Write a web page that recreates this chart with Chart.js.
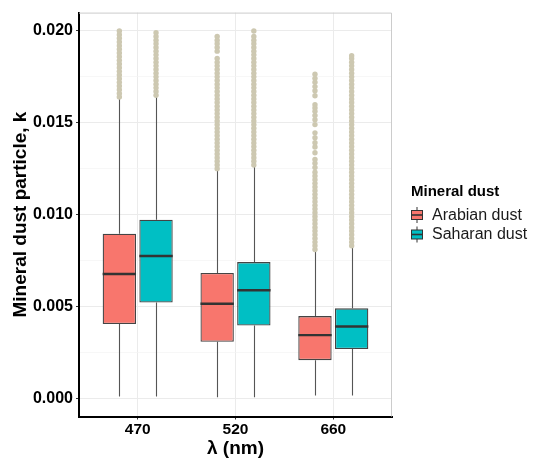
<!DOCTYPE html>
<html>
<head>
<meta charset="utf-8">
<script src="https://cdn.jsdelivr.net/npm/chart.js@4.4.1/dist/chart.umd.min.js"></script>
<style>
  html, body { margin: 0; padding: 0; background: #fff; }
  #wrap { width: 533px; height: 458px; }
</style>
</head>
<body>
<div id="wrap"><canvas id="chart" width="533" height="458"></canvas></div>
<script>
const categories = ['470', '520', '660'];
const groups     = ['Arabian dust', 'Saharan dust'];

// box stats
const arabLo  = [0.00009, 0.00005, 0.00015];
const arabQ1  = [0.00404, 0.00307, 0.00207];
const arabMed = [0.00676, 0.00514, 0.00343];
const arabQ3  = [0.00896, 0.00682, 0.00447];
const arabHi  = [0.01636, 0.01243, 0.00806];

const sahLo  = [0.00009, 0.00005, 0.00015];
const sahQ1  = [0.00521, 0.00395, 0.00267];
const sahMed = [0.00774, 0.00588, 0.00390];
const sahQ3  = [0.00972, 0.00741, 0.00489];
const sahHi  = [0.01645, 0.01262, 0.00824];

// outliers (columns of points above the whiskers)
const arabOut470 = [0.0164,0.0166,0.0168,0.0170,0.0172,0.0174,0.0176,0.0178,0.0180,0.0182,0.0184,0.0186,0.0188,0.0190,0.0192,0.0194,0.0196,0.0198,0.0200];
const sahOut470  = [0.0165,0.0167,0.0169,0.0171,0.0173,0.0175,0.0177,0.0179,0.0181,0.0183,0.0185,0.0187,0.0189,0.0191,0.0193,0.0195,0.0197,0.0199];
const arabOut520 = [0.0125,0.0127,0.0129,0.0131,0.0133,0.0135,0.0137,0.0139,0.0141,0.0143,0.0145,0.0147,0.0149,0.0151,0.0153,0.0155,0.0157,0.0159,0.0161,0.0163,0.0165,0.0167,0.0169,0.0171,0.0173,0.0175,0.0177,0.0179,0.0181,0.0183,0.0185,0.0189,0.0191,0.0193,0.0195,0.0197];
const sahOut520  = [0.0127,0.0129,0.0131,0.0133,0.0135,0.0137,0.0139,0.0141,0.0143,0.0145,0.0147,0.0149,0.0151,0.0153,0.0155,0.0157,0.0159,0.0161,0.0163,0.0165,0.0167,0.0169,0.0171,0.0173,0.0175,0.0177,0.0179,0.0181,0.0183,0.0185,0.0187,0.0189,0.0191,0.0193,0.0195,0.0197,0.0200];
const arabOut660 = [0.0081,0.0083,0.0085,0.0087,0.0089,0.0091,0.0093,0.0095,0.0097,0.0099,0.0101,0.0103,0.0105,0.0107,0.0109,0.0111,0.0113,0.0115,0.0117,0.0119,0.0121,0.0123,0.01256,0.0128,0.0130,0.01337,0.01368,0.01391,0.01418,0.01445,0.0149,0.01517,0.0154,0.01562,0.0158,0.01598,0.01647,0.01674,0.01697,0.01721,0.01742,0.01764];
const sahOut660  = [0.0083,0.0085,0.0087,0.0089,0.0091,0.0093,0.0095,0.0097,0.0099,0.0101,0.0103,0.0105,0.0107,0.0109,0.0111,0.0113,0.0115,0.0117,0.0119,0.0121,0.0123,0.0125,0.0127,0.0129,0.0131,0.0133,0.0135,0.0137,0.0139,0.0141,0.0143,0.0145,0.0147,0.0149,0.0151,0.0153,0.0155,0.0157,0.0159,0.0161,0.0163,0.0165,0.0167,0.0169,0.0171,0.0173,0.0175,0.0177,0.0179,0.0181,0.0183,0.0185,0.01865];

const yMajor  = [0, 0.005, 0.010, 0.015, 0.020];
const yLabels = ['0.000', '0.005', '0.010', '0.015', '0.020'];
const yMinor  = [0.0025, 0.0075, 0.0125, 0.0175];

const COLORS  = ['#F8766D', '#00BFC4'];
const OUT_COL = '#CDC8B1';
const DODGE   = 0.1875;
const FONT    = '"Liberation Sans", Arial, sans-serif';

const xPos = categories.map((c, i) => i + 1);

function boxData(q1, q3) {
  return xPos.map((x, i) => ({ x, y: [q1[i], q3[i]] }));
}
function outData(lists, shift) {
  const pts = [];
  lists.forEach((vals, i) => vals.forEach(v => pts.push({ x: xPos[i] + shift, y: v })));
  return pts;
}
function isMajor(v) {
  return yMajor.some(m => Math.abs(m - v) < 1e-9);
}

const boxPlugin = {
  id: 'boxParts',
  beforeDatasetsDraw(chart) {
    const { ctx, chartArea: a, scales: { y } } = chart;
    // light panel border top / right
    ctx.save();
    ctx.strokeStyle = '#CCCCCC';
    ctx.lineWidth = 1;
    ctx.beginPath();
    ctx.moveTo(a.left, a.top + 0.5); ctx.lineTo(a.right - 0.5, a.top + 0.5);
    ctx.lineTo(a.right - 0.5, a.bottom);
    ctx.stroke();
    // whiskers
    chart.data.datasets.forEach((ds, di) => {
      if (ds.type !== 'bar') return;
      const meta = chart.getDatasetMeta(di);
      meta.data.forEach((el, i) => {
        const x = Math.round(el.x) + 0.5;
        ctx.strokeStyle = '#555555';
        ctx.lineWidth = 1.1;
        ctx.beginPath();
        ctx.moveTo(x, y.getPixelForValue(ds.q3[i])); ctx.lineTo(x, y.getPixelForValue(ds.hi[i]));
        ctx.moveTo(x, y.getPixelForValue(ds.q1[i])); ctx.lineTo(x, y.getPixelForValue(ds.lo[i]));
        ctx.stroke();
      });
    });
    ctx.restore();
  },
  afterDatasetsDraw(chart) {
    const { ctx, scales: { y } } = chart;
    ctx.save();
    chart.data.datasets.forEach((ds, di) => {
      if (ds.type !== 'bar') return;
      const meta = chart.getDatasetMeta(di);
      meta.data.forEach((el, i) => {
        const py = y.getPixelForValue(ds.med[i]);
        ctx.strokeStyle = '#333333';
        ctx.lineWidth = 2.4;
        ctx.beginPath();
        ctx.moveTo(el.x - el.width / 2, py); ctx.lineTo(el.x + el.width / 2, py);
        ctx.stroke();
      });
    });
    ctx.restore();
  },
  afterDraw(chart) {
    const { ctx } = chart;
    ctx.save();
    ctx.fillStyle = '#000';
    ctx.textBaseline = 'middle';
    ctx.textAlign = 'left';
    ctx.font = 'bold 15px ' + FONT;
    ctx.fillText('Mineral dust', 411, 192);
    ctx.font = '16px ' + FONT;
    groups.forEach((g, i) => {
      const cy = 215 + i * 19.5;
      const kx = 411.5, kw = 11;
      ctx.strokeStyle = '#333333';
      ctx.lineWidth = 1;
      ctx.beginPath();
      ctx.moveTo(kx + kw / 2, cy - 8); ctx.lineTo(kx + kw / 2, cy + 8);
      ctx.stroke();
      ctx.fillStyle = COLORS[i];
      ctx.fillRect(kx, cy - 4.5, kw, 9);
      ctx.strokeRect(kx, cy - 4.5, kw, 9);
      ctx.lineWidth = 1.6;
      ctx.beginPath();
      ctx.moveTo(kx, cy); ctx.lineTo(kx + kw, cy);
      ctx.stroke();
      ctx.fillStyle = '#1a1a1a';
      ctx.fillText(g, 432, cy + 0.5);
    });
    ctx.restore();
  }
};

const datasets = [
  { type: 'bar', label: groups[0], data: boxData(arabQ1, arabQ3),
    q1: arabQ1, q3: arabQ3, med: arabMed, lo: arabLo, hi: arabHi,
    backgroundColor: COLORS[0], borderColor: '#444444', borderWidth: 1.3, borderSkipped: false,
    categoryPercentage: 0.75, barPercentage: 0.91 },
  { type: 'bar', label: groups[1], data: boxData(sahQ1, sahQ3),
    q1: sahQ1, q3: sahQ3, med: sahMed, lo: sahLo, hi: sahHi,
    backgroundColor: COLORS[1], borderColor: '#444444', borderWidth: 1.3, borderSkipped: false,
    categoryPercentage: 0.75, barPercentage: 0.91 },
  { type: 'scatter', label: 'out-a', data: outData([arabOut470, arabOut520, arabOut660], -DODGE),
    backgroundColor: OUT_COL, borderWidth: 0, pointRadius: 2.7 },
  { type: 'scatter', label: 'out-s', data: outData([sahOut470, sahOut520, sahOut660], DODGE),
    backgroundColor: OUT_COL, borderWidth: 0, pointRadius: 2.7 }
];

new Chart(document.getElementById('chart'), {
  type: 'bar',
  data: { datasets },
  plugins: [boxPlugin],
  options: {
    responsive: false,
    animation: false,
    devicePixelRatio: 1,
    layout: { padding: { top: 10.5, right: 141, left: 0, bottom: 0 } },
    plugins: { legend: { display: false }, tooltip: { enabled: false } },
    scales: {
      x: {
        type: 'linear',
        offset: false,
        min: 0.4, max: 3.6,
        afterBuildTicks: s => { s.ticks = xPos.map(v => ({ value: v })); },
        afterFit: s => { s.height = 41.5; },
        ticks: {
          callback: v => categories[v - 1] || '',
          color: '#000', padding: 1,
          font: { family: FONT, size: 15.5, weight: 'bold' }
        },
        grid: { offset: false, color: '#EBEBEB', lineWidth: 1, tickLength: 3, tickColor: '#333333' },
        border: { display: true, color: '#000', width: 2 },
        title: {
          display: true, text: 'λ (nm)', color: '#000', padding: 0,
          font: { family: FONT, size: 19, weight: 'bold', lineHeight: 1 }
        }
      },
      y: {
        type: 'linear',
        min: -0.001, max: 0.021,
        afterBuildTicks: s => {
          s.ticks = yMajor.concat(yMinor).sort((a, b) => a - b).map(v => ({ value: v }));
        },
        afterFit: s => { s.width = 79; },
        ticks: {
          callback: v => { const k = yMajor.findIndex(m => Math.abs(m - v) < 1e-9); return k >= 0 ? yLabels[k] : ''; },
          color: '#000', padding: 3,
          font: { family: FONT, size: 16, weight: 'bold' }
        },
        grid: {
          color: c => (c.tick && isMajor(c.tick.value)) ? '#EBEBEB' : '#F3F3F3',
          lineWidth: c => (c.tick && isMajor(c.tick.value)) ? 1 : 0.7,
          tickLength: 3,
          tickColor: c => (c.tick && isMajor(c.tick.value)) ? '#333333' : 'rgba(0,0,0,0)'
        },
        border: { display: true, color: '#000', width: 2 },
        title: {
          display: true, text: 'Mineral dust particle, k', color: '#000',
          padding: { top: 11, bottom: 0 },
          font: { family: FONT, size: 19, weight: 'bold', lineHeight: 1 }
        }
      }
    }
  }
});
</script>
</body>
</html>
